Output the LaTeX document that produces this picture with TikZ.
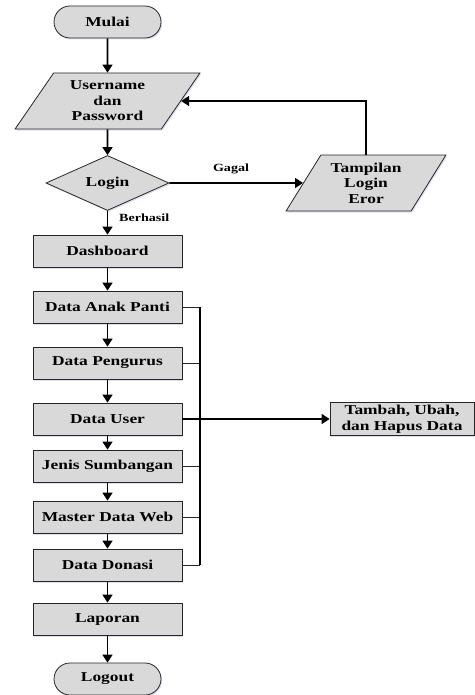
\documentclass[tikz,border=0pt]{standalone}
\usepackage{fontspec}
\setmainfont{Liberation Serif}[FakeStretch=1.28]
\usetikzlibrary{shapes.geometric,arrows.meta,shadows}
\begin{document}
\begin{tikzpicture}[x=1bp,y=-1bp]
\tikzset{
  base/.style={draw=black!85, line width=0.8bp, fill=gray!30, align=center, inner sep=0pt,
    font=\bfseries\fontsize{13.6bp}{15.5bp}\selectfont,
    drop shadow={shadow xshift=1.2bp, shadow yshift=-1.5bp, fill=blue!40!gray, opacity=0.18}},
  procbox/.style={base, rectangle, minimum width=149bp, minimum height=32bp},
  termbox/.style={base, rectangle, rounded corners=16bp, minimum width=107bp, minimum height=32bp},
  iobox/.style={base, trapezium, trapezium left angle=56, trapezium right angle=124,
    trapezium stretches=true, minimum height=56bp},
  decbox/.style={base, diamond, aspect=2.24, minimum width=123bp, minimum height=55bp},
  flow/.style={draw=black, line width=1.6bp, -{Triangle[length=8bp,width=10bp]}},
  busline/.style={draw=black!85, line width=1bp},
  lbl/.style={font=\bfseries\fontsize{11bp}{12bp}\selectfont, inner sep=0pt}
}
\useasboundingbox (0,0) rectangle (475,695);

\node[termbox] (mulai) at (107.5,22) {Mulai};
\node[iobox, minimum width=185bp] (user) at (107.5,101) {Username\\dan\\Password};
\node[decbox] (login) at (107.5,183) {Login};
\node[iobox, minimum width=160bp] (tamp) at (366,183) {Tampilan\\Login\\Eror};
\node[procbox] (dash) at (107.5,251) {Dashboard};
\node[procbox] (anak) at (107.5,307) {Data Anak Panti};
\node[procbox] (peng) at (107.5,363) {Data Pengurus};
\node[procbox] (duser) at (107.5,419) {Data User};
\node[procbox] (jenis) at (107.5,466) {Jenis Sumbangan};
\node[procbox] (master) at (107.5,517) {Master Data Web};
\node[procbox] (donasi) at (107.5,565) {Data Donasi};
\node[procbox] (lap) at (107.5,619) {Laporan};
\node[termbox] (logout) at (107.5,679) {Logout};
\node[base, rectangle, minimum width=144bp, minimum height=33bp] (tambah) at (402,419) {Tambah, Ubah,\\dan Hapus Data};

\node[lbl] (gagal) at (231,169) {Gagal};
\node[lbl, anchor=west] (berhasil) at (119,218) {Berhasil};

\coordinate (bt) at (200,307);
\coordinate (bb) at (200,565);

\draw[flow] (mulai) -- (user);
\draw[flow] (user) -- (login);
\draw[flow] (login) -- (dash);
\draw[flow] (login.east) -- (tamp.west);
\draw[flow] (tamp.north) |- (user.east);
\draw[flow] (dash) -- (anak);
\draw[flow] (anak) -- (peng);
\draw[flow] (peng) -- (duser);
\draw[flow] (duser) -- (jenis);
\draw[flow] (jenis) -- (master);
\draw[flow] (master) -- (donasi);
\draw[flow] (donasi) -- (lap);
\draw[flow] (lap) -- (logout);

\draw[busline] (anak.east) -- (anak.east -| bt);
\draw[busline] (peng.east) -- (peng.east -| bt);
\draw[busline] (jenis.east) -- (jenis.east -| bt);
\draw[busline] (master.east) -- (master.east -| bt);
\draw[busline] (donasi.east) -- (donasi.east -| bt);
\draw[line width=1.6bp] (bt) -- (bb);
\draw[flow] (duser.east) -- (tambah.west);
\end{tikzpicture}
\end{document}
